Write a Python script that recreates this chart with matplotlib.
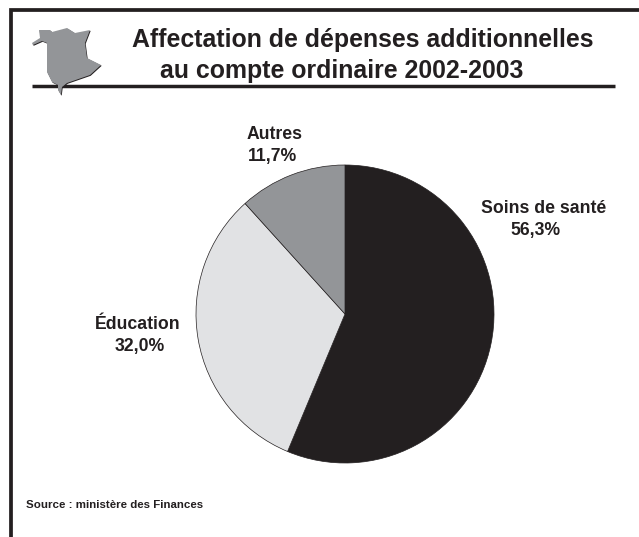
import matplotlib
matplotlib.use("Agg")
import matplotlib.pyplot as plt
from matplotlib.patches import Polygon

plt.rcParams['font.family'] = ['Liberation Sans', 'DejaVu Sans']

categories = ["Soins de santé", "Éducation", "Autres"]
valeurs = [56.3, 32.0, 11.7]
etiquettes = ["56,3%", "32,0%", "11,7%"]
couleurs = ["#231f20", "#e1e2e4", "#939598"]
titre_1 = "Affectation de dépenses additionnelles"
titre_2 = "au compte ordinaire 2002-2003"
source = "Source : ministère des Finances"

noir = "#231f20"
W, H = 639, 537

fig = plt.figure(figsize=(W / 100, H / 100), dpi=100, facecolor="white")

# fond en coordonnees pixels pour le cadre, le filet et les textes
fond = fig.add_axes([0, 0, 1, 1])
fond.set_xlim(0, W)
fond.set_ylim(H, 0)
fond.axis("off")

# cadre ouvert a droite et en bas
fond.plot([10.5, 10.5, W], [H, 10, 10], color=noir, lw=2.7, solid_joinstyle="miter", solid_capstyle="butt")
fond.plot([32, 615], [86.3, 86.3], color=noir, lw=2.5, solid_capstyle="butt")

# silhouette de la province
contour = [(32, 43), (40, 38), (39, 30), (50, 30), (52, 32), (67, 28), (75, 33), (90, 30),
           (85, 43), (87, 58), (101, 65), (90, 75), (67, 83), (62, 87), (61, 95), (58, 90),
           (58, 85), (52, 82), (47, 72), (47, 43), (42, 41), (33, 45)]
ombre = [(x + 0.7, y + 0.8) for x, y in contour]
fond.add_patch(Polygon(ombre, closed=True, fc=noir, ec="none", zorder=3))
fond.add_patch(Polygon(contour, closed=True, fc="#939598", ec="none", zorder=4))

fond.text(363, 46.5, titre_1, ha="center", va="baseline", fontsize=17.9, fontweight="bold", color=noir)
fond.text(341.5, 78, titre_2, ha="center", va="baseline", fontsize=17.9, fontweight="bold", color=noir)

# camembert
cx, cy, r = 345, 314, 149
ax = fig.add_axes([(cx - r) / W, 1 - (cy + r) / H, 2 * r / W, 2 * r / H])
ax.pie(valeurs, colors=couleurs, startangle=90, counterclock=False, radius=1,
       wedgeprops={"edgecolor": noir, "linewidth": 0.5})
ax.set_xlim(-1, 1)
ax.set_ylim(-1, 1)

# nom et pourcentage places separement
pos_noms = [(543.5, 213), (137.5, 329), (275, 139)]
pos_pcts = [(535.5, 235), (139.5, 351), (272.5, 161)]
for nom, pct, p_nom, p_pct in zip(categories, etiquettes, pos_noms, pos_pcts):
    fond.text(p_nom[0], p_nom[1], nom, ha="center", va="baseline", fontsize=12.7,
              fontweight="bold", color=noir, zorder=5)
    fond.text(p_pct[0], p_pct[1], pct, ha="center", va="baseline", fontsize=12.7,
              fontweight="bold", color=noir, zorder=5)

fond.text(26, 508, source, ha="left", va="baseline", fontsize=8.27, fontweight="bold", color=noir)

fig.savefig("out.png", dpi=100, facecolor="white")
